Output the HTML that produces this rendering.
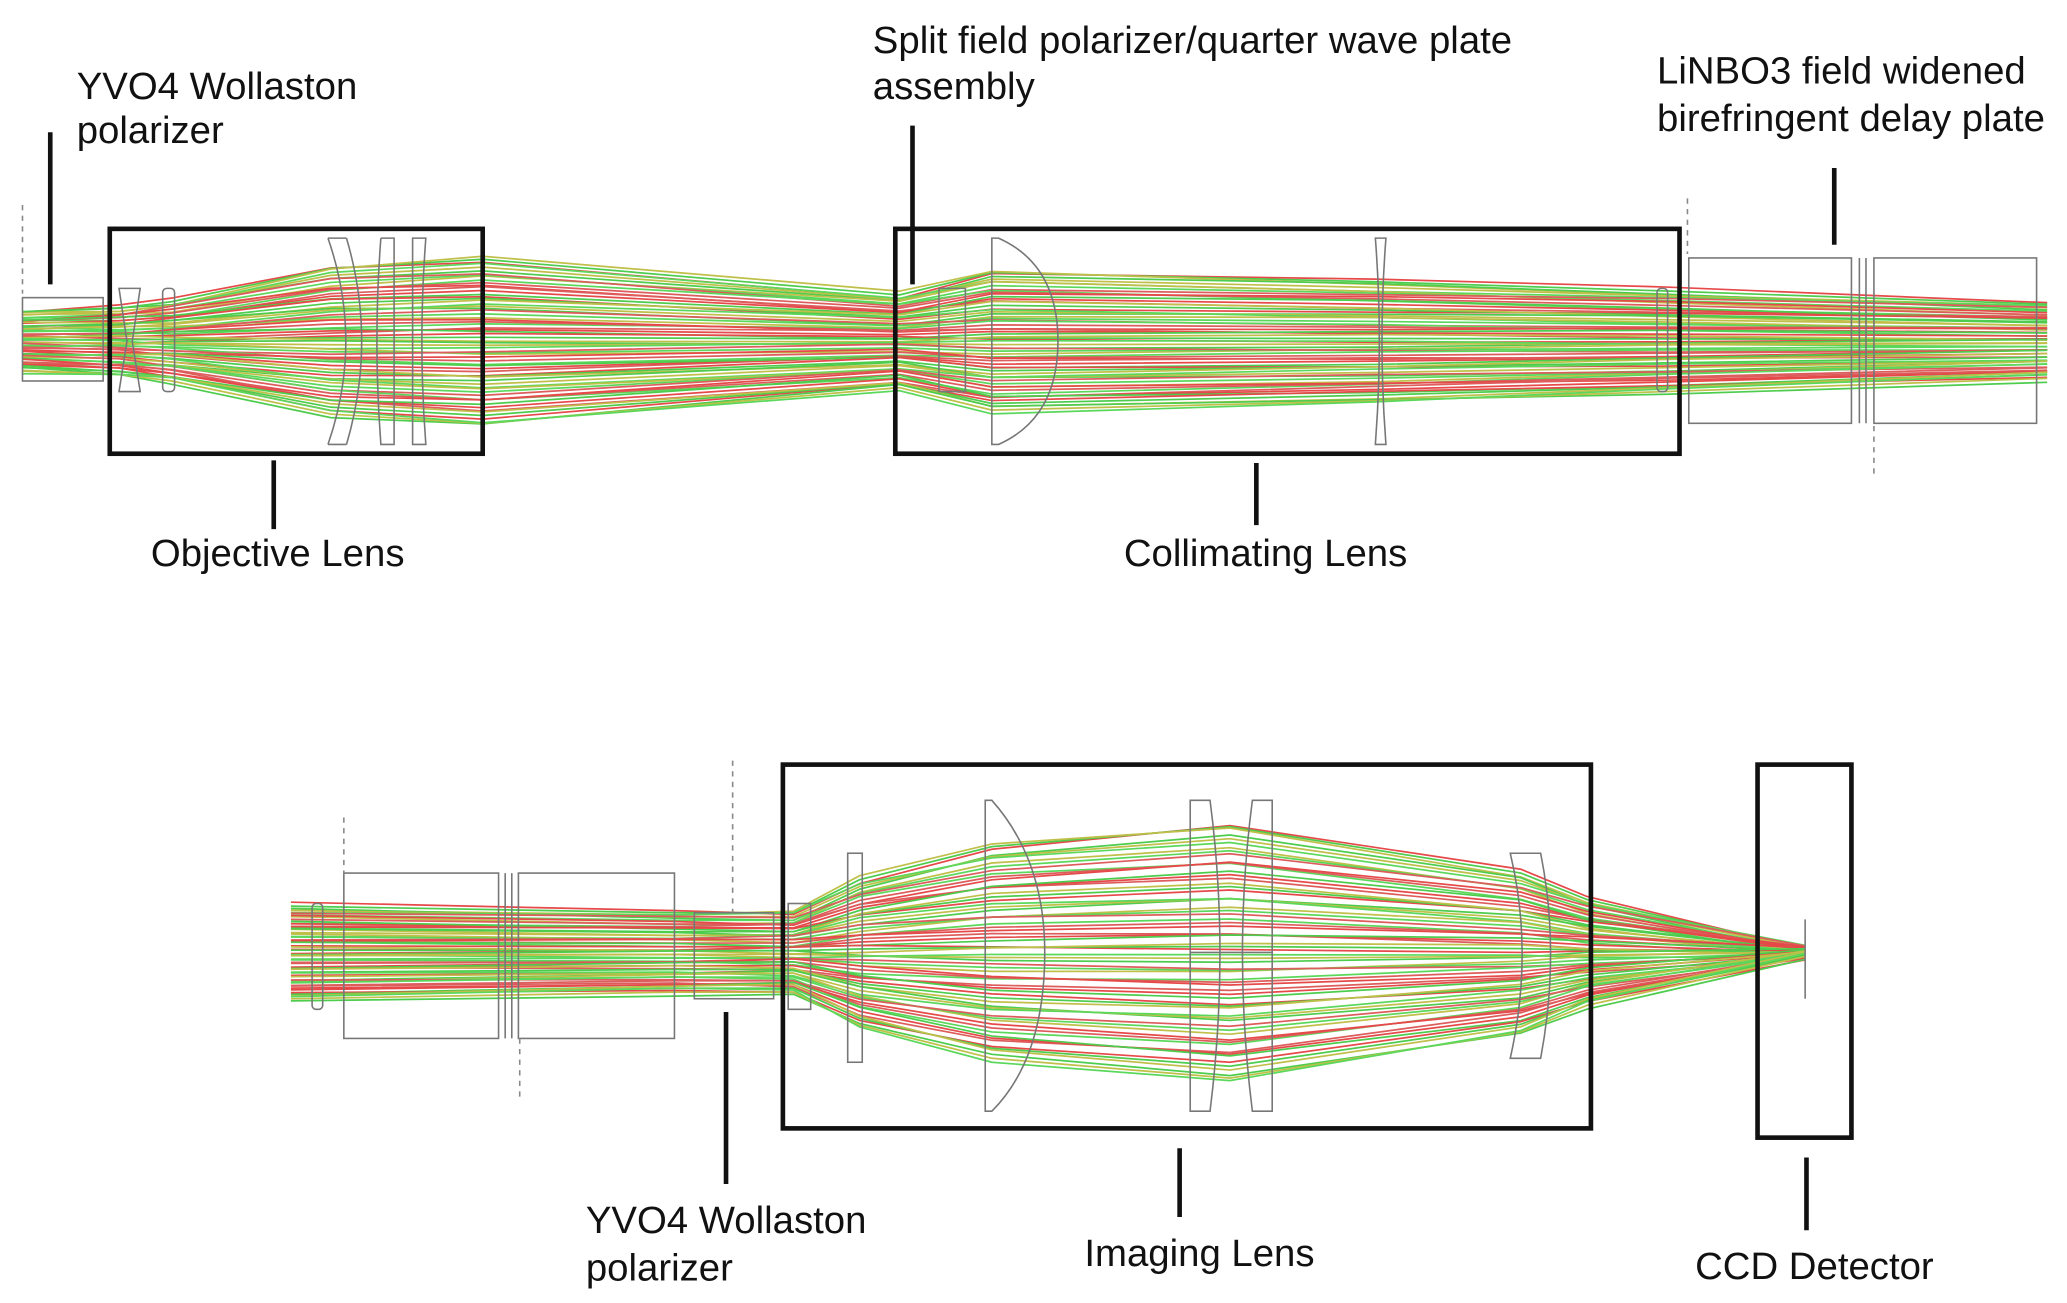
<!DOCTYPE html>
<html><head><meta charset="utf-8"><style>
html,body{margin:0;padding:0;background:#fff;}
svg{display:block;}
text{font-family:"Liberation Sans",sans-serif;font-size:29px;fill:#111;}
</style></head><body>
<svg id="s" width="2067" height="1303" viewBox="0 0 1563 985" preserveAspectRatio="none" xmlns="http://www.w3.org/2000/svg">
<rect width="1563" height="985" fill="#fff"/>
<g id="rays" fill="none" stroke-width="1.3" opacity="0.85"></g>
<g fill="none" stroke="#777" stroke-width="1.2">
<rect x="17" y="225" width="61" height="63"/>
<path d="M90 218 L106 218 L100 258 L106 296 L90 296 L96 258 Z"/>
<rect x="123" y="218" width="9" height="78" rx="3"/>
<path d="M248 180 Q275 258 248 336 M262 180 Q285 258 262 336 M248 180 L262 180 M248 336 L262 336"/>
<path d="M288 180 L298 180 L298 336 L288 336 Q282 258 288 180 M312 180 L322 180 Q316 258 322 336 L312 336 Z"/>
<path d="M710 218 L730 218 L730 296 L710 296 Z"/>
<path d="M750 180 L755 180 Q800 200 800 258 Q800 316 755 336 L750 336 Z"/>
<path d="M1040 180 L1048 180 Q1042 258 1048 336 L1040 336 Q1046 258 1040 180 Z"/>
<rect x="1253" y="218" width="8" height="78" rx="3"/>
<rect x="1277" y="195" width="123" height="125"/>
<rect x="1417" y="195" width="123" height="125"/>
<line x1="1406" y1="195" x2="1406" y2="320"/><line x1="1411" y1="195" x2="1411" y2="320"/>
<rect x="236" y="683" width="8" height="80" rx="3"/>
<rect x="260" y="660" width="117" height="125"/>
<rect x="392" y="660" width="118" height="125"/>
<line x1="382" y1="660" x2="382" y2="785"/><line x1="387" y1="660" x2="387" y2="785"/>
<rect x="525" y="690" width="60" height="65"/>
<rect x="596" y="683" width="17" height="80"/>
<rect x="641" y="645" width="11" height="158"/>
<path d="M745 605 L750 605 Q790 650 790 720 Q790 800 750 840 L745 840 Z"/>
<path d="M900 605 L915 605 Q930 720 915 840 L900 840 Z M947 605 L962 605 L962 840 L947 840 Q932 720 947 605 Z"/>
<line x1="900" y1="720" x2="962" y2="720"/>
<path d="M1142 645 L1165 645 Q1180 720 1165 800 L1142 800 Q1160 720 1142 645 Z"/>
<line x1="1365" y1="695" x2="1365" y2="755"/>
</g>
<g stroke="#888" stroke-width="1.2" stroke-dasharray="4,4">
<line x1="17" y1="155" x2="17" y2="222"/><line x1="1276" y1="150" x2="1276" y2="192"/><line x1="1417" y1="322" x2="1417" y2="362"/>
<line x1="260" y1="618" x2="260" y2="660"/><line x1="393" y1="785" x2="393" y2="830"/><line x1="554" y1="575" x2="554" y2="690"/>
</g>
<g fill="none" stroke="#111" stroke-width="3.5">
<rect x="83" y="173" width="282" height="170"/>
<rect x="677" y="173" width="593" height="170"/>
<rect x="592" y="578" width="611" height="275"/>
<rect x="1329" y="578" width="71" height="282"/>
<line x1="38" y1="100" x2="38" y2="215"/>
<line x1="207" y1="348" x2="207" y2="400"/>
<line x1="950" y1="350" x2="950" y2="397"/>
<line x1="690" y1="95" x2="690" y2="215"/>
<line x1="1387" y1="127" x2="1387" y2="185"/>
<line x1="549" y1="765" x2="549" y2="895"/>
<line x1="892" y1="868" x2="892" y2="920"/>
<line x1="1366" y1="875" x2="1366" y2="930"/>
</g>
<text x="58" y="75">YVO4 Wollaston</text><text x="58" y="108">polarizer</text>
<text x="660" y="40">Split field polarizer/quarter wave plate</text><text x="660" y="75">assembly</text>
<text x="1253" y="63">LiNBO3 field widened</text><text x="1253" y="99">birefringent delay plate</text>
<text x="210" y="428" text-anchor="middle">Objective Lens</text>
<text x="957" y="428" text-anchor="middle">Collimating Lens</text>
<text x="443" y="932">YVO4 Wollaston</text><text x="443" y="968">polarizer</text>
<text x="907" y="957" text-anchor="middle">Imaging Lens</text>
<text x="1372" y="967" text-anchor="middle">CCD Detector</text>
</svg>
<script>
(function(){
var g=document.getElementById('rays'),ns='http://www.w3.org/2000/svg';
var cols=['#e22a2a','#2ec42e','#b5b52a','#3fd23f','#d84040'];
function add(pts,c){var p=document.createElementNS(ns,'polyline');p.setAttribute('points',pts.map(function(a){return a[0]+','+a[1].toFixed(1)}).join(' '));p.setAttribute('stroke',c);g.appendChild(p);}
var tp=[[17,22],[90,25],[130,30],[250,55],[365,62],[680,35],[750,52],[1040,45],[1260,38],[1548,28]];
var bt=[[220,35],[510,30],[600,30],[650,55],[750,80],[930,95],[1150,60],[1200,40],[1365,3]];
for(var i=0;i<22;i++){var t=-1+2*i/21;
 for(var k=0;k<3;k++){var c=cols[(i+k)%5],o=(k-1)*3;
  add(tp.map(function(a,j){return [a[0],258+a[1]*t+o*Math.sin(j+i)]}),c);
  add(bt.map(function(a,j){return [a[0],720+a[1]*t+o*Math.cos(j+i)]}),c);}}
})();
</script>
</body></html>
